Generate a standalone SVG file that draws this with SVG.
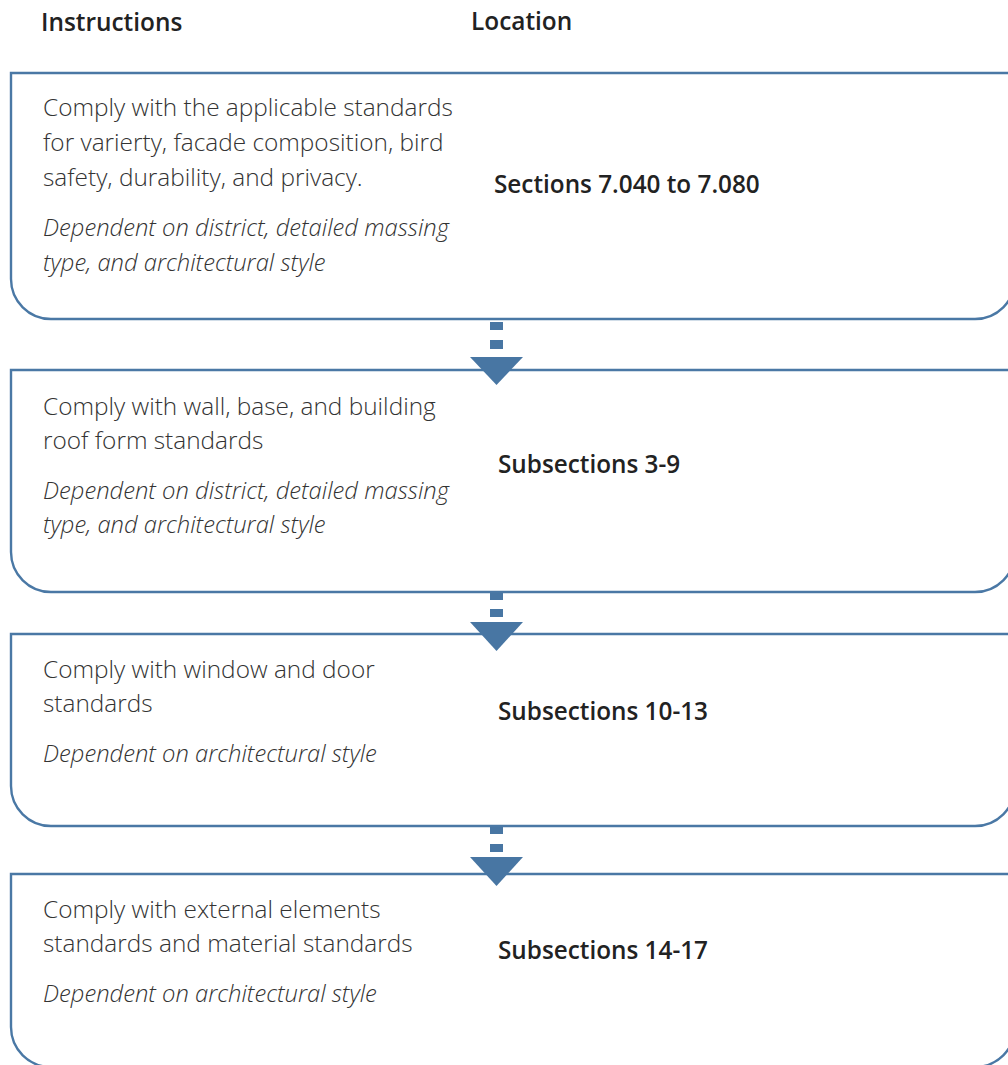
<svg xmlns="http://www.w3.org/2000/svg" width="1008" height="1065" viewBox="0 0 1008 1065">
<style>
.box{fill:#fff;stroke:#4a78a5;stroke-width:2.4}
.hdr{font-family:"Open Sans","Liberation Sans",sans-serif;font-weight:600;font-size:24.4px;fill:#222}
.loc{font-family:"Open Sans","Liberation Sans",sans-serif;font-weight:600;font-size:24.3px;fill:#222}
.body{font-family:"Open Sans","Liberation Sans",sans-serif;font-weight:300;font-size:24.4px;fill:#333}
.it{font-family:"Open Sans","Liberation Sans",sans-serif;font-weight:300;font-style:italic;font-size:23.8px;fill:#333}
.arr{fill:#4876a3}
</style>
<rect width="1008" height="1065" fill="#fff"/>
<g id="headers">
<text class="hdr" x="41" y="31">Instructions</text>
<text class="hdr" x="471" y="30">Location</text>
</g>
<g id="node1">
<path class="box" d="M11 73 H1015 V279 A40 40 0 0 1 975 319 H51 A40 40 0 0 1 11 279 Z"/>
<text class="body" x="43" y="116">Comply with the applicable standards</text>
<text class="body" x="43" y="151">for varierty, facade composition, bird</text>
<text class="body" x="43" y="186">safety, durability, and privacy.</text>
<text class="it" x="43" y="236">Dependent on district, detailed massing</text>
<text class="it" x="43" y="271">type, and architectural style</text>
<text class="loc" x="494" y="193">Sections 7.040 to 7.080</text>
</g>
<g id="node2">
<path class="box" d="M11 370 H1015 V552 A40 40 0 0 1 975 592 H51 A40 40 0 0 1 11 552 Z"/>
<text class="body" x="43" y="415">Comply with wall, base, and building</text>
<text class="body" x="43" y="449">roof form standards</text>
<text class="it" x="43" y="499">Dependent on district, detailed massing</text>
<text class="it" x="43" y="533">type, and architectural style</text>
<text class="loc" x="498" y="473">Subsections 3-9</text>
</g>
<g id="node3">
<path class="box" d="M11 634 H1015 V786 A40 40 0 0 1 975 826 H51 A40 40 0 0 1 11 786 Z"/>
<text class="body" x="43" y="678">Comply with window and door</text>
<text class="body" x="43" y="712">standards</text>
<text class="it" x="43" y="762">Dependent on architectural style</text>
<text class="loc" x="498" y="720">Subsections 10-13</text>
</g>
<g id="node4">
<path class="box" d="M11 874 H1015 V1027 A40 40 0 0 1 975 1067 H51 A40 40 0 0 1 11 1027 Z"/>
<text class="body" x="43" y="918">Comply with external elements</text>
<text class="body" x="43" y="952">standards and material standards</text>
<text class="it" x="43" y="1002">Dependent on architectural style</text>
<text class="loc" x="498" y="959">Subsections 14-17</text>
</g>
<g id="connectors">
<rect class="arr" x="490" y="322" width="13" height="8"/>
<rect class="arr" x="490" y="340" width="13" height="9"/>
<polygon class="arr" points="470,357 523,357 496.5,385"/>
<rect class="arr" x="490" y="593" width="13" height="7"/>
<rect class="arr" x="490" y="609" width="13" height="8"/>
<polygon class="arr" points="470,622 523,622 496.5,651"/>
<rect class="arr" x="490" y="827" width="13" height="7"/>
<rect class="arr" x="490" y="844" width="13" height="8"/>
<polygon class="arr" points="470,857 523,857 496.5,886"/>
</g>
</svg>
